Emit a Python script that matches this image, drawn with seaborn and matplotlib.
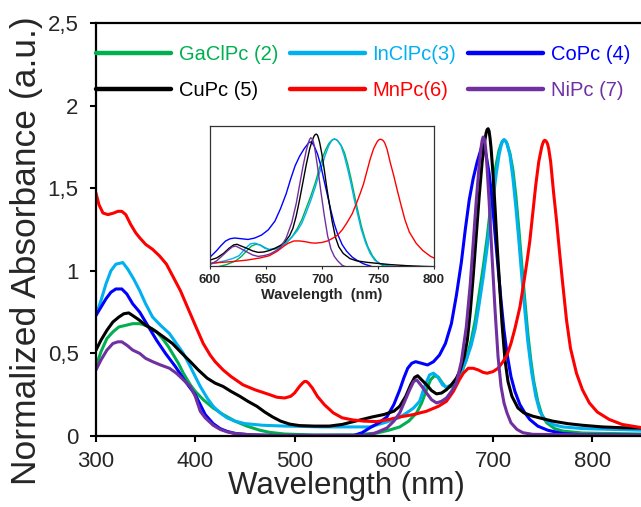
import matplotlib
matplotlib.use("Agg")
import matplotlib.pyplot as plt
import seaborn as sns
import numpy as np

# ---------------- data ----------------
labels = ["GaClPc (2)", "InClPc(3)", "CoPc (4)", "CuPc (5)", "MnPc(6)", "NiPc (7)"]
colors = ["#00B050", "#00B0F0", "#0000FF", "#000000", "#FF0000", "#7030A0"]

ga_wl = [300, 305, 311, 317, 323, 330, 337, 344, 350, 356, 361, 367, 373, 377, 383, 388, 395, 400, 408, 418,
         428, 440, 452, 465, 475, 490, 520, 560, 583, 595, 606, 615, 623, 628, 633, 637, 641, 645, 649, 653,
         658, 663, 668, 673, 678, 682, 686, 690, 694, 697, 700, 703, 706, 708, 709, 710, 711, 712, 713, 714, 717, 720, 723, 726,
         729, 732, 735, 738, 741, 745, 749, 754, 762, 770, 790, 850]
ga_ab = [0.42, 0.51, 0.59, 0.63, 0.66, 0.67, 0.68, 0.68, 0.67, 0.65, 0.63, 0.59, 0.54, 0.50, 0.44, 0.38, 0.31, 0.27, 0.22, 0.17,
         0.13, 0.09, 0.06, 0.035, 0.022, 0.012, 0.006, 0.006, 0.018, 0.035, 0.055, 0.09, 0.14, 0.20, 0.28, 0.34, 0.365, 0.355, 0.32, 0.29,
         0.30, 0.33, 0.38, 0.46, 0.58, 0.70, 0.86, 1.02, 1.20, 1.36, 1.52, 1.64, 1.73, 1.765, 1.78, 1.788, 1.79, 1.788, 1.782, 1.77, 1.71, 1.61, 1.45, 1.25,
         1.03, 0.82, 0.62, 0.46, 0.33, 0.21, 0.13, 0.08, 0.045, 0.03, 0.018, 0.012]

in_wl = [300, 305, 310, 315, 320, 327, 332, 338, 344, 350, 357, 365, 374, 381, 388, 395, 400, 405, 412, 418,
         425, 432, 440, 450, 468, 490, 530, 576, 593, 605, 613, 620, 626, 631, 636, 640, 644, 649, 653, 658,
         663, 668, 673, 678, 682, 686, 690, 694, 697, 700, 703, 706, 708, 709, 710, 711, 712, 713, 714, 717, 720, 723, 726, 729,
         732, 735, 739, 743, 747, 752, 760, 770, 790, 820, 850]
in_ab = [0.73, 0.82, 0.92, 1.00, 1.04, 1.05, 1.01, 0.95, 0.88, 0.80, 0.72, 0.67, 0.62, 0.56, 0.50, 0.42, 0.36, 0.30, 0.23, 0.18,
         0.14, 0.11, 0.09, 0.075, 0.065, 0.06, 0.055, 0.055, 0.085, 0.11, 0.14, 0.17, 0.21, 0.30, 0.37, 0.38, 0.36, 0.31, 0.295, 0.31,
         0.34, 0.39, 0.46, 0.55, 0.65, 0.80, 0.96, 1.14, 1.30, 1.43, 1.58, 1.70, 1.755, 1.775, 1.787, 1.795, 1.79, 1.782, 1.77, 1.70, 1.56, 1.38, 1.18, 0.96,
         0.76, 0.57, 0.38, 0.24, 0.15, 0.10, 0.07, 0.055, 0.045, 0.04, 0.035]

co_wl = [300, 305, 310, 315, 320, 326, 331, 337, 344, 352, 361, 370, 380, 390, 400, 405, 410, 418, 425, 432,
         440, 455, 480, 560, 568, 576, 585, 593, 600, 606, 610, 614, 618, 622, 628, 634, 640, 646, 652, 658,
         663, 668, 672, 676, 680, 684, 687, 688, 689, 690, 691, 693, 696, 699, 702, 705, 708, 711, 714, 718, 722, 727, 732,
         737, 745, 755, 770, 790, 850]
co_ab = [0.73, 0.78, 0.83, 0.87, 0.89, 0.89, 0.86, 0.80, 0.75, 0.67, 0.58, 0.50, 0.42, 0.33, 0.25, 0.19, 0.13, 0.075, 0.045, 0.028,
         0.016, 0.007, 0.003, 0.004, 0.02, 0.05, 0.08, 0.115, 0.19, 0.28, 0.35, 0.41, 0.44, 0.45, 0.44, 0.43, 0.45, 0.49, 0.56, 0.68,
         0.85, 1.05, 1.25, 1.43, 1.56, 1.66, 1.72, 1.74, 1.75, 1.752, 1.745, 1.70, 1.59, 1.43, 1.22, 1.02, 0.82, 0.64, 0.50, 0.36, 0.27, 0.19, 0.14,
         0.10, 0.06, 0.035, 0.015, 0.008, 0.005]

cu_wl = [300, 305, 311, 317, 323, 328, 333, 338, 344, 350, 356, 361, 368, 377, 385, 395, 403, 412, 420, 428,
         436, 445, 453, 462, 470, 478, 486, 495, 505, 520, 535, 548, 558, 568, 578, 590, 600, 606, 612, 617,
         621, 624, 628, 633, 638, 643, 648, 653, 658, 663, 667, 671, 674, 677, 680, 683, 686, 689, 691, 692, 693, 694,
         695, 696, 697, 698, 700, 702, 704, 707, 709, 712, 715, 719, 725, 731, 740, 750, 760, 775, 790, 810, 830, 850]
cu_ab = [0.52, 0.58, 0.64, 0.69, 0.72, 0.74, 0.745, 0.725, 0.70, 0.67, 0.65, 0.63, 0.60, 0.56, 0.51, 0.45, 0.40, 0.35, 0.32, 0.30,
         0.27, 0.24, 0.21, 0.18, 0.145, 0.115, 0.09, 0.072, 0.063, 0.06, 0.06, 0.07, 0.085, 0.10, 0.115, 0.13, 0.15, 0.18, 0.24, 0.31,
         0.355, 0.365, 0.34, 0.31, 0.275, 0.255, 0.26, 0.28, 0.31, 0.35, 0.40, 0.48, 0.58, 0.75, 0.97, 1.21, 1.45, 1.66, 1.76, 1.80, 1.835, 1.855,
         1.86, 1.845, 1.80, 1.74, 1.58, 1.38, 1.16, 0.87, 0.68, 0.46, 0.33, 0.24, 0.17, 0.14, 0.12, 0.105, 0.09, 0.075, 0.065, 0.055, 0.05, 0.048]

mn_wl = [300, 303, 307, 312, 318, 322, 326, 330, 335, 340, 344, 350, 357, 364, 371, 378, 385, 390, 395, 400,
         408, 415, 420, 428, 436, 448, 460, 475, 482, 490, 496, 500, 505, 508, 510, 512, 514, 518, 523, 530, 539, 548,
         559, 570, 583, 595, 606, 620, 633, 645, 653, 660, 666, 670, 675, 680, 685, 690, 694, 700, 705, 710,
         714, 718, 722, 727, 731, 734, 737, 740, 743, 746, 748, 749, 750, 751, 752, 753, 754, 755, 756, 758, 761, 764, 767, 770, 774, 778,
         784, 790, 797, 805, 817, 830, 850]
mn_ab = [1.47, 1.40, 1.35, 1.34, 1.35, 1.36, 1.36, 1.34, 1.28, 1.23, 1.20, 1.16, 1.13, 1.09, 1.04, 0.96, 0.88, 0.81, 0.74, 0.67,
         0.56, 0.49, 0.45, 0.40, 0.36, 0.31, 0.28, 0.25, 0.235, 0.23, 0.24, 0.26, 0.30, 0.32, 0.33, 0.33, 0.32, 0.29, 0.24, 0.19, 0.14, 0.11,
         0.097, 0.09, 0.087, 0.10, 0.115, 0.13, 0.15, 0.18, 0.21, 0.27, 0.34, 0.38, 0.41, 0.41, 0.40, 0.385, 0.38, 0.39, 0.41, 0.45,
         0.49, 0.56, 0.65, 0.78, 0.93, 1.05, 1.18, 1.35, 1.52, 1.66, 1.72, 1.75, 1.77, 1.785, 1.79, 1.787, 1.78, 1.765, 1.74, 1.66, 1.47, 1.30, 1.11, 0.93, 0.70, 0.53,
         0.38, 0.28, 0.20, 0.145, 0.10, 0.07, 0.05]

ni_wl = [300, 305, 311, 317, 322, 326, 331, 337, 344, 350, 357, 365, 374, 381, 388, 395, 400, 405, 410, 418,
         425, 432, 440, 455, 480, 570, 580, 593, 600, 606, 611, 616, 620, 623, 627, 633, 638, 643, 648, 653,
         658, 663, 668, 673, 677, 680, 683, 686, 688, 689, 690, 691, 692, 693, 694, 696, 699, 702, 705, 708, 711, 714, 718,
         724, 730, 740, 850]
ni_ab = [0.40, 0.46, 0.52, 0.56, 0.57, 0.57, 0.55, 0.52, 0.50, 0.47, 0.45, 0.43, 0.41, 0.38, 0.34, 0.30, 0.24, 0.15, 0.11, 0.065,
         0.04, 0.025, 0.015, 0.008, 0.004, 0.004, 0.015, 0.048, 0.09, 0.14, 0.21, 0.28, 0.33, 0.34, 0.31, 0.26, 0.22, 0.20, 0.21, 0.23,
         0.27, 0.32, 0.45, 0.66, 0.92, 1.17, 1.42, 1.64, 1.75, 1.79, 1.81, 1.80, 1.77, 1.71, 1.62, 1.42, 1.08, 0.76, 0.48, 0.30, 0.20, 0.14, 0.08,
         0.04, 0.02, 0.01, 0.005]

wls = [ga_wl, in_wl, co_wl, cu_wl, mn_wl, ni_wl]
abss = [ga_ab, in_ab, co_ab, cu_ab, mn_ab, ni_ab]

x_ticks = [300, 400, 500, 600, 700, 800]
y_ticks = [0, 0.5, 1, 1.5, 2, 2.5]
y_tick_labels = ["0", "0,5", "1", "1,5", "2", "2,5"]
inset_ticks = [600, 650, 700, 750, 800]

# ---------------- style ----------------
sns.set_style("ticks")
plt.rcParams["font.family"] = ["Liberation Sans", "DejaVu Sans"]

W, H = 641, 507
fig = plt.figure(figsize=(W / 100, H / 100), dpi=100)
ax = fig.add_axes([96 / W, 1 - 436 / H, 545 / W, 413 / H])

for wl, ab, lab, col in zip(wls, abss, labels, colors):
    sns.lineplot(x=wl, y=ab, ax=ax, color=col, lw=2.2, label=lab,
                 sort=False, estimator=None, solid_joinstyle="round", solid_capstyle="round")

ax.set_xlim(300, 849)
ax.set_ylim(0, 2.5)
ax.set_xticks(x_ticks)
ax.set_xticklabels([str(t) for t in x_ticks])
ax.set_yticks(y_ticks)
ax.set_yticklabels(y_tick_labels)
ax.tick_params(axis="both", direction="out", length=4.5, width=1.5, labelsize=16, color="black")
ax.tick_params(axis="x", pad=6)
ax.tick_params(axis="y", pad=8)
for s in ["left", "bottom", "top"]:
    ax.spines[s].set_linewidth(1.6)
    ax.spines[s].set_color("black")
ax.spines["right"].set_visible(False)

ax.set_xlabel("Wavelength (nm)", fontsize=22.5)
ax.xaxis.set_label_coords(0.459, -0.085)
ax.set_ylabel("Normalized Absorbance (a.u.)", fontsize=25.5)
ax.yaxis.set_label_coords(-0.098, 0.45)

# legend (row-wise order via column fill)
handles = ax.get_lines()
order = [0, 3, 1, 4, 2, 5]
leg = ax.legend([handles[i] for i in order], [labels[i] for i in order],
                ncol=3, loc="upper left", bbox_to_anchor=(0, 0.946), frameon=False,
                borderpad=0, borderaxespad=0, fontsize=14.5, handlelength=3.7,
                handletextpad=0.4, columnspacing=0.6, labelspacing=0.85,
                labelcolor="linecolor")
for ln in leg.get_lines():
    ln.set_linewidth(3.2)

# ---------------- inset ----------------
axin = fig.add_axes([210 / W, 1 - 266 / H, 224 / W, 140 / H])
axin.set_facecolor("white")
for wl, ab, col in zip(wls, abss, colors):
    sns.lineplot(x=wl, y=ab, ax=axin, color=col, lw=1.0, sort=False, estimator=None)
axin.set_xlim(600, 800)
axin.set_ylim(0.07, 1.97)
axin.set_xticks(inset_ticks)
axin.set_xticklabels([str(t) for t in inset_ticks], fontweight="bold")
axin.set_yticks([])
axin.tick_params(axis="x", direction="out", length=2.5, width=0.8, labelsize=9.5, pad=3)
for s in axin.spines.values():
    s.set_linewidth(0.9)
    s.set_color("#333333")
axin.set_xlabel("Wavelength  (nm)", fontsize=10.5, fontweight="bold", labelpad=2)
axin.set_ylabel("")

fig.savefig("out.png", dpi=100)
